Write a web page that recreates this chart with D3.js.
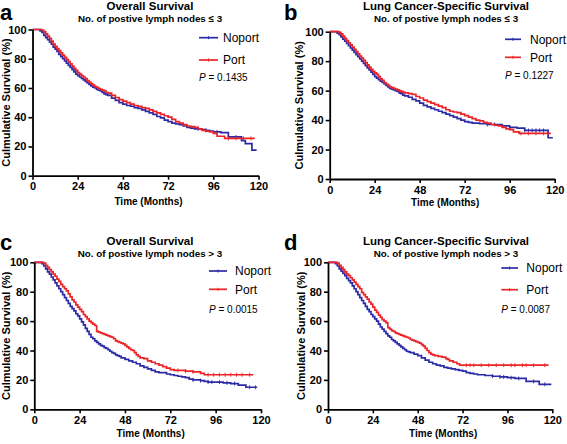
<!DOCTYPE html>
<html><head><meta charset="utf-8">
<script src="https://cdn.jsdelivr.net/npm/d3@7"></script>
<style>body{margin:0;background:#fff}svg{display:block}text{font-family:"Liberation Sans",Arial,sans-serif}</style>
</head><body><svg id="c" width="567" height="444"></svg>
<script>
// ---------- data ----------
const xTicks = [0, 24, 48, 72, 96, 120];
const yTicks = [0, 20, 40, 60, 80, 100];
const seriesNames = ["Noport", "Port"];
const panelLetters = ["a", "b", "c", "d"];
const panelTitles = ["Overall Survival", "Lung Cancer-Specific Survival", "Overall Survival", "Lung Cancer-Specific Survival"];
const panelSubtitles = ["No. of postive lymph nodes \u2264 3", "No. of postive lymph nodes \u2264 3", "No. of postive lymph nodes > 3", "No. of postive lymph nodes > 3"];
const pValues = ["0.1435", "0.1227", "0.0015", "0.0087"];

// panel a (time in months, survival in %)
const aNoportT = [0,4,5,6,7,8,9,10,11,12,13,14,15,16,17,18,19,20,21,22,23,24,25,26,27,28,29,30,31,32,33,34,35,36,37,38,39,40,42,44,46,48,50,52,54,56,58,60,62,64,66,68,70,72,74,76,78,80,82,84,86,88,90,92,94,96,100,104,108,111,113,116.5,119];
const aNoportS = [100,99,98,96,94.5,93,91.5,90,88,86.5,85,83,81.5,80,78.5,77,75.5,74,72.5,71,69.5,68.5,67.5,66.5,65.5,64.5,63.5,62.5,61.5,60.5,60,59,58.5,58,57,56,55.5,55,53,51.5,50,49,48,47.5,46.5,46,45,44,43,42,40.5,39.5,38,37,36,35.5,35,34,33,32.5,32,32,31.5,31,30.5,30,29.5,26.5,26.5,24,22,17.5,17.5];
const aPortT = [0,5,6,7,8,9,10,11,12,13,14,15,16,17,18,19,20,21,22,23,24,25,26,27,28,29,30,31,32,33,34,35,36,37,38,39,40,42,44,46,48,50,52,54,56,58,60,62,64,66,68,70,72,74,76,78,80,82,84,86,88,90,92,94,96,98,102,118];
const aPortS = [100,99.5,98.5,97,95.5,94,92,90,88.5,87,85.5,84,82.5,81,79.5,78,76.5,75,73.5,72,70.5,69.5,68.5,67.5,66.5,65,64,63,62,61,60.5,59.5,59,58.5,58,57,56.5,55,53.5,52,51,50,49,48,47.5,46.5,46,45,44,43,42,41,40,38.5,37,36,35,34,33.5,33,32,31,30.5,30,29,27,25.5,25.5];
// panel b
const bNoportT = [0,4,5,6,7,8,9,10,11,12,13,14,15,16,17,18,19,20,21,22,23,24,25,26,27,28,29,30,31,32,33,34,35,36,37,38,39,40,42,44,46,48,50,52,54,56,58,60,62,64,66,68,70,72,74,76,80,84,88,92,96,100,104,108,112,116.5,119];
const bNoportS = [100,99,98,96.5,95,93.5,92,90.5,89,87.5,86,84.5,83,81.5,80,78.5,77,75.5,74,72.5,71,69.5,68.5,67.5,66.5,65.5,64.5,63.5,62.5,61.5,61,60.5,60,59.5,58.5,58,57,56.5,55.5,54,53,51.5,50,49,48,47,46,45,44,43,42,41,40,39,38.5,38,37.5,37,37,36,35,34.5,33,33,33,28,28];
const bPortT = [0,5,6,7,8,9,10,11,12,13,14,15,16,17,18,19,20,21,22,23,24,25,26,27,28,29,30,31,32,33,34,35,36,37,38,39,40,42,44,46,48,50,52,54,56,58,60,62,64,66,68,70,72,74,76,78,80,82,84,86,88,90,92,94,96,98,101,118];
const bPortS = [100,99.5,98.5,97,95.5,94,92.5,91,89.5,88,86.5,85,83.5,82,80.5,79,77.5,76,74.5,73,72,71,69.5,68,67,65.5,64.5,63.5,62.5,62,61.5,61,60.5,60,59.5,59,58.5,58,57.5,56,55,53.5,52.5,51.5,50.5,49.5,48.5,47,46,45.5,45,44,43,42,41,40,39.5,38.5,38,37,36.5,36,35,34,33.5,32,31,31];
// panel c
const cNoportT = [0,4,5,6,7,8,9,10,11,12,13,14,15,16,17,18,19,20,21,22,23,24,25,26,27,28,29,30,31,32,33,34,35,36,37,38,39,40,41,42,43,44,45,46,48,50,52,54,56,58,60,62,64,66,68,70,72,74,76,78,80,82,84,86,88,90,92,96,100,104,108,112,118];
const cNoportS = [100,99,97.5,95.5,93.5,92,90,88,86,84,82,80,78,76,74,72,70,68.5,67,65,63.5,61.5,59.5,57.5,55,53,51,49,48,46.5,45.5,44.5,43.5,43,42,41.5,40.5,39.5,38.5,38,37,36.5,36,35,34,33,32,31,29.5,28.5,27.5,26.5,25.5,25,25,24,23.5,23,22.5,22,21.5,20.5,20,20,19.5,19,18.5,18.5,18,17.5,16.5,15,15];
const cPortT = [0,5,6,7,8,9,10,11,12,13,14,15,16,17,18,19,20,21,22,23,24,25,26,27,28,29,30,31,32,33,34,35,36,37,38,39,40,41,42,43,44,45,46,47,48,49,50,51,52,53,54,55,56,58,60,62,64,66,68,70,72,74,76,80,84,88,90,116];
const cPortS = [100,99.5,98,96.5,95,93.5,92,90.5,88.5,87,85,83.5,82,80.5,78.5,76.5,74.5,73,71,69.5,68,66.5,64.5,63,61.5,60,59,58,57,53,52.5,52,51.5,51,50.5,50,49.5,49,48,46.5,46,45.5,45,44.5,43.5,42.5,41.5,40.5,40,38.5,37,36,35,34.5,33,32,31,30,29,28,27,26.5,26.5,26,25.5,24.5,23.5,23.5];
// panel d
const dNoportT = [0,4,5,6,7,8,9,10,11,12,13,14,15,16,17,18,19,20,21,22,23,24,25,26,27,28,29,30,31,32,33,34,35,36,37,38,39,40,41,42,43,44,46,48,50,52,54,56,58,60,62,64,66,68,70,72,74,76,78,80,84,88,92,96,100,104,106,113,119.5];
const dNoportS = [100,99,97.5,95.5,94,92.5,91,89,87.5,86,84,82,80,78,76,74,72,70,68,66.5,64.5,63,61.5,60,58,56,54.5,53,51.5,50,49,47.5,46.5,45.5,44.5,43.5,42.5,41.5,40.5,39.5,39,38.5,37.5,36.5,35,33.5,32,31,30,29.5,28.5,28,27.5,27,26.5,26,25,24.5,24,23.5,23,22.5,22,21.5,21,21,19,17,17];
const dPortT = [0,5,6,7,8,9,10,11,12,13,14,15,16,17,18,19,20,21,22,23,24,25,26,27,28,29,30,31,32,33,34,35,36,37,38,39,40,41,42,43,44,45,46,47,48,49,50,51,52,53,54,55,56,57,59,61,63,64,65,67,69,70.4,118];
const dPortS = [100,99.5,98,96.5,95,93.5,92,91,89.5,88,86.5,85,83.5,82,79.5,78,76.5,75,73,71.5,69.5,67.5,66,64,62.5,61,60,59,55.5,54.5,53.5,53,52,51.5,51,50.5,50,49.5,49,48.5,47.5,47,46.5,46,45.5,45,44,43,41.5,40,38.5,37.5,37,36.5,36,35.5,34.5,34,33,32,31,30,30];

// censoring marks (months)
const aCensN = [88, 92, 98, 104, 108], aCensP = [104, 108, 112, 116];
const bCensN = [84, 88, 104, 106, 108, 110, 112, 114], bCensP = [102, 106, 110, 114];
const cCensN = [84, 88, 92, 94, 98, 102, 106, 114, 117], cCensP = [76, 80, 84, 92, 95, 98, 101, 104, 107, 110, 114];
const dCensN = [88, 92, 94, 98, 102, 110, 116], dCensP = [74, 76, 78, 82, 86, 90, 94, 98, 100, 104, 106, 110, 116];

const seriesT = [[aNoportT, aPortT], [bNoportT, bPortT], [cNoportT, cPortT], [dNoportT, dPortT]];
const seriesS = [[aNoportS, aPortS], [bNoportS, bPortS], [cNoportS, cPortS], [dNoportS, dPortS]];
const censT = [[aCensN, aCensP], [bCensN, bCensP], [cCensN, cCensP], [dCensN, dCensP]];

// ---------- layout ----------
const colors = ["#2b2ba6", "#ec2428"];
const layout = [
  {x0:32.5, x1:258.5, yT:29.5, yB:175.7, letX:0, letY:20, tX:150, tY:10, sY:22, ylX:6, lx0:199, lx1:218, ltX:223, ly:[37.7,60], pX:199, pY:77.3, xlY:205},
  {x0:329.7, x1:554.7, yT:31.7, yB:179, letX:284, letY:20, tX:446, tY:10, sY:22, ylX:298.5, lx0:505, lx1:521, ltX:530, ly:[39.3,57.3], pX:505, pY:75, xlY:206},
  {x0:34.3, x1:261, yT:262.3, yB:409.3, letX:0, letY:250, tX:150, tY:245, sY:257, ylX:6, lx0:209, lx1:227, ltX:235, ly:[271,289.3], pX:209, pY:309.3, xlY:437},
  {x0:328, x1:552.3, yT:262.3, yB:409.3, letX:284, letY:250, tX:446, tY:245, sY:257, ylX:300.5, lx0:501.3, lx1:518, ltX:526.3, ly:[268,289.7], pX:501.3, pY:309.3, xlY:437}
];

const svg = d3.select("#c");
layout.forEach((L, i) => {
  const g = svg.append("g");
  const x = d3.scaleLinear().domain([0, 120]).range([L.x0, L.x1]);
  const y = d3.scaleLinear().domain([0, 100]).range([L.yB, L.yT]);

  // curves
  const line = d3.line().curve(d3.curveStepAfter).x(d => x(d[0])).y(d => y(d[1]));
  [0, 1].forEach(k => {
    const T = seriesT[i][k], S = seriesS[i][k];
    const pts = T.map((t, j) => [t, S[j]]);
    g.append("path").attr("d", line(pts)).attr("fill", "none")
      .attr("stroke", colors[k]).attr("stroke-width", 1.7);
    // censor ticks
    censT[i][k].forEach(c => {
      const j = d3.bisectRight(T, c) - 1;
      const sv = S[Math.max(0, j)];
      g.append("line").attr("x1", x(c)).attr("x2", x(c)).attr("y1", y(sv) - 2).attr("y2", y(sv) + 2)
        .attr("stroke", colors[k]).attr("stroke-width", 0.9);
    });
  });

  // axes
  const xa = g.append("g").attr("transform", `translate(0,${L.yB})`)
    .call(d3.axisBottom(x).tickValues(xTicks).tickSize(4).tickSizeOuter(0).tickPadding(3));
  const ya = g.append("g").attr("transform", `translate(${L.x0},0)`)
    .call(d3.axisLeft(y).tickValues(yTicks).tickSize(4).tickSizeOuter(0).tickPadding(2));
  [xa, ya].forEach(a => {
    a.select(".domain").attr("stroke", "#000").attr("stroke-width", 1.8);
    a.selectAll(".tick line").attr("stroke", "#000").attr("stroke-width", 1.6);
    a.selectAll(".tick text").attr("fill", "#000").style("font-size", "11px").style("font-weight", "bold")
      .style("font-family", '"Liberation Sans",Arial,sans-serif');
  });

  // texts
  g.append("text").attr("x", L.letX).attr("y", L.letY).text(panelLetters[i])
    .style("font-size", "22px").style("font-weight", "bold");
  g.append("text").attr("x", L.tX).attr("y", L.tY).attr("text-anchor", "middle").text(panelTitles[i])
    .style("font-size", "11.5px").style("font-weight", "bold");
  g.append("text").attr("x", L.tX).attr("y", L.sY).attr("text-anchor", "middle").text(panelSubtitles[i])
    .style("font-size", "9.8px").style("font-weight", "bold");
  g.append("text").attr("transform", `translate(${L.ylX + 4},${(L.yT + L.yB) / 2}) rotate(-90)`)
    .attr("text-anchor", "middle").text("Culmulative Survival (%)")
    .style("font-size", "11px").style("font-weight", "bold");
  g.append("text").attr("x", (L.x0 + L.x1) / 2 + 3).attr("y", L.xlY).attr("text-anchor", "middle")
    .text("Time (Months)").style("font-size", "10px").style("font-weight", "bold");

  // legend
  seriesNames.forEach((n, k) => {
    g.append("line").attr("x1", L.lx0).attr("x2", L.lx1).attr("y1", L.ly[k]).attr("y2", L.ly[k])
      .attr("stroke", colors[k]).attr("stroke-width", 1.7);
    g.append("line").attr("x1", (L.lx0 + L.lx1) / 2).attr("x2", (L.lx0 + L.lx1) / 2)
      .attr("y1", L.ly[k] - 1.5).attr("y2", L.ly[k] + 1.5).attr("stroke", colors[k]).attr("stroke-width", 1);
    g.append("text").attr("x", L.ltX).attr("y", L.ly[k] + 4.3).text(n).style("font-size", "12px");
  });
  const pt = g.append("text").attr("x", L.pX).attr("y", L.pY + 3.6).style("font-size", "10px");
  pt.append("tspan").style("font-style", "italic").text("P");
  pt.append("tspan").text(" = " + pValues[i]);
});
</script></body></html>
